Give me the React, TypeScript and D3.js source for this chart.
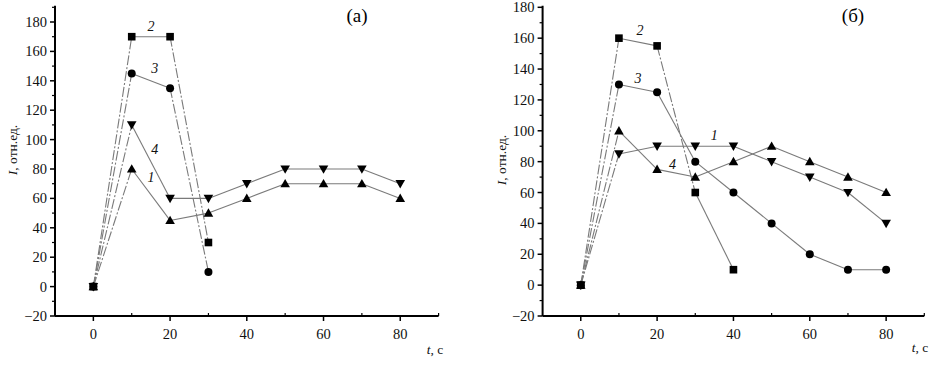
import React from 'react';
import * as d3 from 'd3';

// time, s
const tSec = [0, 10, 20, 30, 40, 50, 60, 70, 80];

// panel (a)
const aCurve1 = [0, 80, 45, 50, 60, 70, 70, 70, 60];
const aCurve2 = [0, 170, 170, 30];
const aCurve3 = [0, 145, 135, 10];
const aCurve4 = [0, 110, 60, 60, 70, 80, 80, 80, 70];

// panel (б)
const bCurve1 = [0, 85, 90, 90, 90, 80, 70, 60, 40];
const bCurve2 = [0, 160, 155, 60, 10];
const bCurve3 = [0, 130, 125, 80, 60, 40, 20, 10, 10];
const bCurve4 = [0, 100, 75, 70, 80, 90, 80, 70, 60];

const xTicks = [0, 20, 40, 60, 80];
const yTicks = [-20, 0, 20, 40, 60, 80, 100, 120, 140, 160, 180];

const FONT = "'Liberation Serif', 'Times New Roman', Tinos, 'DejaVu Serif', serif";

type Series = {
  values: number[];
  marker: 'square' | 'circle' | 'up' | 'down';
  dashedSegs: number[]; // index of segment start that is dashed
  label: string;
  labelAt: [number, number];
};

type PanelProps = {
  title: string;
  xRange: [number, number];
  yDomain: [number, number];
  yRange: [number, number];
  series: Series[];
  titlePos: [number, number];
  yTitlePos: [number, number];
  xTitlePos: [number, number];
};

const Marker = ({ kind, x, y }: { kind: string; x: number; y: number }) => {
  if (kind === 'square') return <rect x={x - 3.8} y={y - 3.8} width={7.6} height={7.6} fill="#000" />;
  if (kind === 'circle') return <circle cx={x} cy={y} r={4} fill="#000" />;
  const s = 4.8;
  const pts =
    kind === 'up'
      ? [[x, y - s], [x - s, y + s * 0.75], [x + s, y + s * 0.75]]
      : [[x, y + s], [x - s, y - s * 0.75], [x + s, y - s * 0.75]];
  return <polygon points={pts.map(p => p.join(',')).join(' ')} fill="#000" />;
};

const Panel = (p: PanelProps) => {
  const x = d3.scaleLinear().domain([-10, 90]).range(p.xRange);
  const y = d3.scaleLinear().domain(p.yDomain).range(p.yRange);
  const line = d3.line<[number, number]>().x(d => x(d[0])).y(d => y(d[1]));
  const y0 = p.yRange[0];
  const x0 = p.xRange[0];
  const yMinor = d3.range(p.yDomain[0] + 10, p.yDomain[1] + 1, 20);
  const xMinor = d3.range(10, 91, 20);

  return (
    <g>
      {p.series.map((s, i) => (
        <g key={i}>
          {s.values.slice(1).map((v, j) => (
            <path
              key={j}
              d={line([[tSec[j], s.values[j]], [tSec[j + 1], v]]) || ''}
              fill="none"
              stroke="#7a7a7a"
              strokeWidth={1.1}
              strokeDasharray={s.dashedSegs.includes(j) ? '10,2,2,2' : undefined}
            />
          ))}
        </g>
      ))}
      {p.series.map((s, i) => (
        <g key={'m' + i}>
          {s.values.map((v, j) => (
            <Marker key={j} kind={s.marker} x={x(tSec[j])} y={y(v)} />
          ))}
          <text
            x={x(s.labelAt[0])}
            y={y(s.labelAt[1])}
            fontSize={14}
            fontStyle="italic"
            textAnchor="middle"
            fill="#111"
          >
            {s.label}
          </text>
        </g>
      ))}
      {/* axes */}
      <line x1={x0} x2={x0} y1={y0} y2={p.yRange[1] - 1.5} stroke="#000" strokeWidth={2} />
      <line x1={x0} x2={p.xRange[1]} y1={y0} y2={y0} stroke="#000" strokeWidth={2} />
      {yTicks.filter(t => t <= p.yDomain[1]).map(t => (
        <g key={t}>
          <line x1={x0 - 5} x2={x0} y1={y(t)} y2={y(t)} stroke="#000" strokeWidth={1.5} />
          <text x={x0 - 8} y={y(t) + 5} fontSize={14.5} textAnchor="end" fill="#111">
            {t < 0 ? '\u2212' + Math.abs(t) : t}
          </text>
        </g>
      ))}
      {yMinor.map(t => (
        <line key={'ym' + t} x1={x0 - 3} x2={x0} y1={y(t)} y2={y(t)} stroke="#000" strokeWidth={1.2} />
      ))}
      {xTicks.map(t => (
        <g key={'x' + t}>
          <line x1={x(t)} x2={x(t)} y1={y0} y2={y0 + 5} stroke="#000" strokeWidth={1.5} />
          <text x={x(t)} y={y0 + 23} fontSize={14.5} textAnchor="middle" fill="#111">
            {t}
          </text>
        </g>
      ))}
      {xMinor.map(t => (
        <line key={'xm' + t} x1={x(t)} x2={x(t)} y1={y0} y2={y0 - 3} stroke="#000" strokeWidth={1.2} />
      ))}
      <text x={p.titlePos[0]} y={p.titlePos[1]} fontSize={19} textAnchor="middle" fill="#000">
        {p.title}
      </text>
      <text
        transform={`translate(${p.yTitlePos[0]},${p.yTitlePos[1]}) rotate(-90)`}
        fontSize={13.5}
        textAnchor="middle"
        fill="#111"
      >
        <tspan fontStyle="italic">I</tspan>, отн.ед.
      </text>
      <text x={p.xTitlePos[0]} y={p.xTitlePos[1]} fontSize={13.5} textAnchor="middle" fill="#111">
        <tspan fontStyle="italic">t</tspan>, c
      </text>
    </g>
  );
};

const App = () => {
  const seriesA: Series[] = [
    { values: aCurve1, marker: 'up', dashedSegs: [0], label: '1', labelAt: [15, 71] },
    { values: aCurve2, marker: 'square', dashedSegs: [0, 2], label: '2', labelAt: [15, 174] },
    { values: aCurve3, marker: 'circle', dashedSegs: [0, 2], label: '3', labelAt: [16, 145] },
    { values: aCurve4, marker: 'down', dashedSegs: [0], label: '4', labelAt: [16, 90] },
  ];
  const seriesB: Series[] = [
    { values: bCurve1, marker: 'down', dashedSegs: [0], label: '1', labelAt: [35, 94] },
    { values: bCurve2, marker: 'square', dashedSegs: [0, 2], label: '2', labelAt: [15.5, 162] },
    { values: bCurve3, marker: 'circle', dashedSegs: [0], label: '3', labelAt: [15, 131] },
    { values: bCurve4, marker: 'up', dashedSegs: [0], label: '4', labelAt: [24, 75] },
  ];
  return (
    <div style={{ position: 'absolute', left: 0, top: 0, fontFamily: FONT }}>
      <svg width={937} height={366} style={{ display: 'block', background: '#fff', fontFamily: FONT }}>
        <Panel
          title="(a)"
          xRange={[55, 438.6]}
          yDomain={[-20, 190]}
          yRange={[316, 7.3]}
          series={seriesA}
          titlePos={[357, 22]}
          yTitlePos={[17, 150]}
          xTitlePos={[435, 354]}
        />
        <Panel
          title="(б)"
          xRange={[542.6, 924.3]}
          yDomain={[-20, 180]}
          yRange={[316, 7.3]}
          series={seriesB}
          titlePos={[853, 22]}
          yTitlePos={[506, 160]}
          xTitlePos={[920, 352]}
        />
      </svg>
    </div>
  );
};

export default App;
